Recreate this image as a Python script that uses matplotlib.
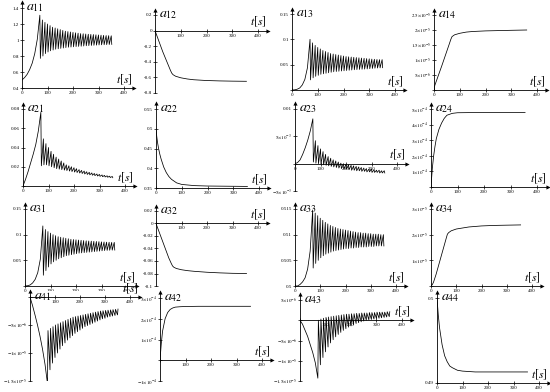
import matplotlib
matplotlib.use("Agg")
import matplotlib.pyplot as plt

plt.rcParams['font.family'] = ['Liberation Serif', 'DejaVu Serif']
plt.rcParams['mathtext.fontset'] = 'stix'

# ---- data ----
rise_t = [0, 10, 20, 30, 40, 50, 60]
osc_t = list(range(70, 360, 10))

a11_rise = [0.50, 0.53, 0.57, 0.63, 0.71, 0.83, 1.01]
a11_pk = [1.31, 1.25, 1.22, 1.20, 1.18, 1.16, 1.15, 1.14, 1.13, 1.12, 1.11, 1.105, 1.10, 1.095, 1.09,
          1.085, 1.08, 1.078, 1.075, 1.072, 1.07, 1.068, 1.065, 1.063, 1.06, 1.058, 1.056, 1.055, 1.053]
a11_jb = [0.77, 0.80, 0.83, 0.85, 0.865, 0.875, 0.885, 0.89, 0.895, 0.90, 0.905, 0.91, 0.912, 0.915, 0.918,
          0.92, 0.922, 0.925, 0.928, 0.93, 0.932, 0.934, 0.936, 0.938, 0.94, 0.941, 0.942, 0.943, 0.945]

a12_t = [0, 10, 20, 30, 40, 50, 60, 65, 70, 80, 100, 125, 150, 200, 250, 300, 355]
a12 = [0, -0.09, -0.18, -0.27, -0.35, -0.43, -0.51, -0.545, -0.565, -0.585, -0.605, -0.62, -0.63,
       -0.64, -0.645, -0.648, -0.65]

a13_rise = [0.0, 0.0003, 0.0015, 0.004, 0.010, 0.021, 0.044]
a13_pk = [0.100, 0.093, 0.088, 0.084, 0.081, 0.078, 0.076, 0.074, 0.072, 0.071, 0.070, 0.069, 0.068, 0.067,
          0.066, 0.0655, 0.065, 0.0645, 0.064, 0.0635, 0.063, 0.0625, 0.062, 0.0615, 0.061, 0.0607, 0.0603,
          0.060, 0.060]
a13_jb = [0.020, 0.024, 0.027, 0.029, 0.031, 0.032, 0.033, 0.034, 0.035, 0.036, 0.0365, 0.037, 0.0375, 0.038,
          0.0385, 0.039, 0.0395, 0.040, 0.0403, 0.0406, 0.041, 0.0413, 0.0416, 0.042, 0.0425, 0.043, 0.0433,
          0.0436, 0.044]

a14_t = [0, 3, 10, 20, 30, 40, 50, 60, 65, 70, 80, 100, 125, 150, 200, 250, 300, 360]
a14 = [0, 1.5e-6, 3.2e-6, 5.6e-6, 8e-6, 1.05e-5, 1.3e-5, 1.55e-5, 1.68e-5, 1.78e-5, 1.84e-5, 1.89e-5,
       1.93e-5, 1.95e-5, 1.97e-5, 1.98e-5, 1.99e-5, 2.0e-5]

a21_rise = [0.0, 0.007, 0.015, 0.024, 0.033, 0.043, 0.057]
a21_pk = [0.0765, 0.049, 0.044, 0.040, 0.036, 0.033, 0.030, 0.028, 0.026, 0.024, 0.022, 0.021, 0.020, 0.019,
          0.018, 0.017, 0.0162, 0.0155, 0.0148, 0.0142, 0.0136, 0.013, 0.0125, 0.012, 0.0115, 0.011, 0.0106,
          0.0102, 0.0099]
a21_jb = [0.021, 0.022, 0.022, 0.021, 0.020, 0.019, 0.018, 0.0175, 0.017, 0.0165, 0.016, 0.0155, 0.015,
          0.0145, 0.014, 0.0135, 0.013, 0.0125, 0.012, 0.0116, 0.0112, 0.0108, 0.0104, 0.010, 0.0097, 0.0094,
          0.0091, 0.0088, 0.0086]

a22_t = [0, 3, 6, 10, 15, 20, 30, 40, 50, 60, 80, 100, 150, 200, 355]
a22 = [0.5, 0.48, 0.465, 0.45, 0.435, 0.423, 0.403, 0.389, 0.379, 0.372, 0.363, 0.359, 0.356, 0.355, 0.354]

a23_rise = [0, 0.0002, 0.0007, 0.0017, 0.0029, 0.0043, 0.0060]
a23_pk = [0.0082, 0.0042, 0.0033, 0.0027, 0.0022, 0.0017, 0.0013, 0.0010, 0.0007, 0.0005, 0.0003, 0.0001,
          0.0, -0.0001, -0.0002, -0.0003, -0.0004, -0.0005, -0.0006, -0.0007, -0.0008, -0.0009, -0.0010,
          -0.0010, -0.0011, -0.0012, -0.0012, -0.0013, -0.0013]
a23_jb = [0.0003, 0.0001, 0.0, -0.0001, -0.0002, -0.0003, -0.0004, -0.0005, -0.0006, -0.0007, -0.0008,
          -0.0009, -0.0010, -0.0010, -0.0011, -0.0012, -0.0012, -0.0013, -0.0013, -0.0014, -0.0014, -0.0015,
          -0.0015, -0.0016, -0.0016, -0.0016, -0.0017, -0.0017, -0.0017]

a24_t = [0, 2, 5, 10, 15, 20, 30, 40, 50, 60, 80, 100, 200, 355]
a24 = [0, 0.5e-4, 1.2e-4, 2.0e-4, 2.6e-4, 3.1e-4, 3.7e-4, 4.1e-4, 4.4e-4, 4.6e-4, 4.72e-4, 4.76e-4,
       4.78e-4, 4.78e-4]

a31_rise = [0, 0.0005, 0.002, 0.006, 0.013, 0.026, 0.052]
a31_pk = [0.117, 0.110, 0.106, 0.103, 0.100, 0.098, 0.096, 0.095, 0.094, 0.093, 0.092, 0.091, 0.0905, 0.090,
          0.0895, 0.089, 0.0885, 0.088, 0.0877, 0.0874, 0.087, 0.0867, 0.0864, 0.086, 0.0858, 0.0855, 0.0853,
          0.085, 0.085]
a31_jb = [0.021, 0.030, 0.037, 0.043, 0.047, 0.050, 0.053, 0.055, 0.057, 0.059, 0.060, 0.061, 0.062, 0.063,
          0.064, 0.0645, 0.065, 0.0655, 0.066, 0.0665, 0.067, 0.0675, 0.068, 0.0685, 0.069, 0.0693, 0.0696,
          0.0698, 0.070]

a32_t = [0, 10, 20, 30, 40, 50, 60, 65, 70, 80, 100, 125, 150, 200, 250, 300, 355]
a32 = [0, -0.011, -0.022, -0.033, -0.044, -0.055, -0.064, -0.068, -0.070, -0.072, -0.074, -0.0755,
       -0.0765, -0.078, -0.079, -0.0797, -0.080]

a33_rise = [0.5, 0.5, 0.5003, 0.5008, 0.5016, 0.5033, 0.5068]
a33_pk = [0.5148, 0.5142, 0.5137, 0.5132, 0.5128, 0.5124, 0.5121, 0.5118, 0.5116, 0.5114, 0.5112, 0.5111,
          0.5110, 0.5109, 0.5108, 0.5107, 0.5106, 0.5105, 0.5104, 0.5104, 0.5103, 0.5103, 0.5102, 0.5102,
          0.5101, 0.5101, 0.5101, 0.5100, 0.5100]
a33_jb = [0.5035, 0.5044, 0.5050, 0.5055, 0.5059, 0.5062, 0.5064, 0.5066, 0.5068, 0.5069, 0.5070, 0.5071,
          0.5072, 0.5073, 0.5073, 0.5074, 0.5074, 0.5075, 0.5075, 0.5076, 0.5076, 0.5076, 0.5077, 0.5077,
          0.5077, 0.5078, 0.5078, 0.5078, 0.5078]

a34_t = [0, 5, 10, 20, 30, 40, 50, 60, 65, 70, 80, 100, 150, 200, 250, 300, 355]
a34 = [0, 5e-7, 1.5e-6, 4.5e-6, 8e-6, 1.15e-5, 1.5e-5, 1.85e-5, 2.02e-5, 2.08e-5, 2.15e-5, 2.22e-5, 2.3e-5,
       2.34e-5, 2.36e-5, 2.37e-5, 2.38e-5]

a41_rise = [0, -1.5e-6, -3.2e-6, -5.0e-6, -7.0e-6, -9.3e-6, -1.2e-5]
a41_pk = [-1.55e-5, -1.3e-5, -1.18e-5, -1.08e-5, -1.0e-5, -9.3e-6, -8.7e-6, -8.2e-6, -7.7e-6, -7.3e-6,
          -6.9e-6, -6.5e-6, -6.2e-6, -5.9e-6, -5.6e-6, -5.3e-6, -5.1e-6, -4.9e-6, -4.7e-6, -4.5e-6,
          -4.3e-6, -4.1e-6, -3.9e-6, -3.8e-6, -3.6e-6, -3.5e-6, -3.4e-6, -3.3e-6, -3.2e-6]
a41_jb = [-6.0e-6, -5.6e-6, -5.3e-6, -5.0e-6, -4.8e-6, -4.6e-6, -4.4e-6, -4.2e-6, -4.0e-6, -3.8e-6,
          -3.6e-6, -3.5e-6, -3.4e-6, -3.3e-6, -3.2e-6, -3.1e-6, -3.0e-6, -2.9e-6, -2.8e-6, -2.7e-6,
          -2.6e-6, -2.5e-6, -2.45e-6, -2.4e-6, -2.35e-6, -2.3e-6, -2.25e-6, -2.2e-6, -2.15e-6]

a42_t = [0, 5, 10, 20, 30, 40, 50, 60, 80, 100, 150, 355]
a42 = [0, 8e-5, 1.4e-4, 2.0e-4, 2.3e-4, 2.45e-4, 2.52e-4, 2.56e-4, 2.58e-4, 2.59e-4, 2.6e-4, 2.6e-4]

a43_rise = [0, -1.0e-6, -2.5e-6, -4.0e-6, -6.0e-6, -8.0e-6, -1.05e-5]
a43_pk = [-1.43e-5, -1.1e-5, -9.2e-6, -7.8e-6, -6.6e-6, -5.6e-6, -4.8e-6, -4.1e-6, -3.5e-6, -3.0e-6,
          -2.5e-6, -2.1e-6, -1.7e-6, -1.4e-6, -1.1e-6, -8e-7, -6e-7, -4e-7, -2e-7, 0.0,
          1e-7, 2e-7, 3e-7, 4e-7, 5e-7, 6e-7, 7e-7, 8e-7, 9e-7]
a43_jb = [0.0, 3e-7, 5e-7, 7e-7, 8e-7, 9e-7, 1.0e-6, 1.1e-6, 1.2e-6, 1.3e-6,
          1.4e-6, 1.5e-6, 1.5e-6, 1.6e-6, 1.6e-6, 1.7e-6, 1.7e-6, 1.8e-6, 1.8e-6, 1.8e-6,
          1.9e-6, 1.9e-6, 1.9e-6, 2.0e-6, 2.0e-6, 2.0e-6, 2.0e-6, 2.1e-6, 2.1e-6]

a44_t = [0, 5, 10, 20, 30, 40, 50, 60, 80, 100, 150, 200, 355]
a44 = [0.5, 0.498, 0.4965, 0.4945, 0.4932, 0.4925, 0.492, 0.4918, 0.4915, 0.4914, 0.4913, 0.4913, 0.4913]

x_ticks = [0, 100, 200, 300, 400]


def zigzag(rise, pk, jb):
    t = list(rise_t)
    v = list(rise)
    for tk, p, j in zip(osc_t, pk, jb):
        t += [tk, tk + 2]
        v += [p, j]
    return t, v


def sci(m, e):
    return r'$%s{\times}10^{%d}$' % (m, e)


W, H = 550, 392
fig = plt.figure(figsize=(W / 100, H / 100), dpi=100)


def panel(name, t, v, x0, x400, yb, yt, ylo, yhi, yticks, ylabels, xlabels=None):
    sx = (x400 - x0) / 400.0
    xmax = 440
    sy = (yb - yt) / (yhi - ylo)
    pad = 0.07 * (yhi - ylo)
    ax = fig.add_axes([x0 / W, 1 - yb / H, xmax * sx / W, (yhi - ylo + pad) * sy / H])
    ax.set_xlim(0, xmax)
    ax.set_ylim(ylo, yhi + pad)
    ax.plot(t, v, color='k', lw=0.55)
    xa = 0 if ylo <= 0 <= yhi else ylo
    for s in ('top', 'right'):
        ax.spines[s].set_visible(False)
    ax.spines['left'].set_position(('data', 0))
    ax.spines['bottom'].set_position(('data', xa))
    for s in ('left', 'bottom'):
        ax.spines[s].set_linewidth(0.6)
    ax.set_xticks(x_ticks)
    ax.set_xticklabels(xlabels if xlabels else ['0', '100', '200', '300', '400'])
    ax.set_yticks(yticks)
    ax.set_yticklabels(ylabels)
    ax.tick_params(direction='inout', length=2.2, width=0.5, labelsize=3.6, pad=1)
    ax.plot([1], [xa], marker='>', color='k', ms=3, mew=0,
            transform=ax.get_yaxis_transform(), clip_on=False)
    ax.plot([0], [1], marker='^', color='k', ms=3, mew=0,
            transform=ax.get_xaxis_transform(), clip_on=False)
    ax.annotate(r'$a_{%s}$' % name, xy=(0, 1), xycoords=ax.get_xaxis_transform(),
                xytext=(3, 1), textcoords='offset points', ha='left', va='top', fontsize=10)
    ax.annotate(r'$t[s]$', xy=(1, xa), xycoords=ax.get_yaxis_transform(),
                xytext=(-1, 1), textcoords='offset points', ha='right', va='bottom', fontsize=8.5)
    return ax


t, v = zigzag(a11_rise, a11_pk, a11_jb)
panel('11', t, v, 22, 124, 88, 8, 0.4, 1.4, [0.4, 0.6, 0.8, 1.0, 1.2, 1.4],
      ['0.4', '0.6', '0.8', '1', '1.2', '1.4'])
panel('12', a12_t, a12, 155, 258, 93, 15, -0.8, 0.2, [-0.8, -0.6, -0.4, -0.2, 0, 0.2],
      ['-0.8', '-0.6', '-0.4', '-0.2', '0', '0.2'], ['', '100', '200', '300', '400'])
t, v = zigzag(a13_rise, a13_pk, a13_jb)
panel('13', t, v, 292, 395, 90, 14, 0, 0.15, [0, 0.05, 0.1, 0.15], ['', '0.05', '0.1', '0.15'])
panel('14', a14_t, a14, 434, 537, 90, 15, 0, 2.5e-5, [0, 5e-6, 1e-5, 1.5e-5, 2e-5, 2.5e-5],
      ['', sci('5', -6), sci('1', -5), sci('1.5', -5), sci('2', -5), sci('2.5', -5)])

t, v = zigzag(a21_rise, a21_pk, a21_jb)
panel('21', t, v, 23, 125, 186, 109, 0, 0.08, [0, 0.02, 0.04, 0.06, 0.08],
      ['', '0.02', '0.04', '0.06', '0.08'])
panel('22', a22_t, a22, 156, 259, 188, 109, 0.35, 0.55, [0.35, 0.4, 0.45, 0.5, 0.55],
      ['0.35', '0.4', '0.45', '0.5', '0.55'])
t, v = zigzag(a23_rise, a23_pk, a23_jb)
panel('23', t, v, 295, 397, 191, 109, -0.005, 0.01, [-0.005, 0, 0.005, 0.01],
      [r'$-5{\times}10^{-3}$', '', sci('5', -3), '0.01'])
panel('24', a24_t, a24, 431, 537, 187, 109, 0, 5e-4, [0, 1e-4, 2e-4, 3e-4, 4e-4, 5e-4],
      ['', sci('1', -4), sci('2', -4), sci('3', -4), sci('4', -4), sci('5', -4)])

t, v = zigzag(a31_rise, a31_pk, a31_jb)
panel('31', t, v, 25, 127, 286, 209, 0, 0.15, [0, 0.05, 0.1, 0.15], ['', '0.05', '0.1', '0.15'])
panel('32', a32_t, a32, 156, 258, 286, 211, -0.1, 0.02, [-0.1, -0.08, -0.06, -0.04, -0.02, 0, 0.02],
      ['-0.1', '-0.08', '-0.06', '-0.04', '-0.02', '0', '0.02'], ['', '100', '200', '300', '400'])
t, v = zigzag(a33_rise, a33_pk, a33_jb)
panel('33', t, v, 295, 396, 286, 209, 0.5, 0.515, [0.5, 0.505, 0.51, 0.515],
      ['0.5', '0.505', '0.51', '0.515'])
panel('34', a34_t, a34, 431, 532, 286, 209, 0, 3e-5, [0, 1e-5, 2e-5, 3e-5],
      ['', sci('1', -5), sci('2', -5), sci('3', -5)])

t, v = zigzag(a41_rise, a41_pk, a41_jb)
panel('41', t, v, 30, 130, 381, 297, -1.5e-5, 0, [-1.5e-5, -1e-5, -5e-6, 0],
      [r'$-1.5{\times}10^{-5}$', r'$-1{\times}10^{-5}$', r'$-5{\times}10^{-6}$', ''],
      ['', '100', '200', '300', '400'])
panel('42', a42_t, a42, 160, 262, 381, 298, -1e-4, 3e-4, [-1e-4, 0, 1e-4, 2e-4, 3e-4],
      [r'$-1{\times}10^{-4}$', '', sci('1', -4), sci('2', -4), sci('3', -4)],
      ['', '100', '200', '300', '400'])
t, v = zigzag(a43_rise, a43_pk, a43_jb)
panel('43', t, v, 300, 402, 381, 300, -1.5e-5, 5e-6, [-1.5e-5, -1e-5, -5e-6, 0, 5e-6],
      [r'$-1.5{\times}10^{-5}$', r'$-1{\times}10^{-5}$', r'$-5{\times}10^{-6}$', '', sci('5', -6)],
      ['', '100', '200', '300', '400'])
panel('44', a44_t, a44, 437, 539, 383, 298, 0.49, 0.5, [0.49, 0.5], ['0.49', '0.5'])

fig.savefig('out.png', dpi=100)
